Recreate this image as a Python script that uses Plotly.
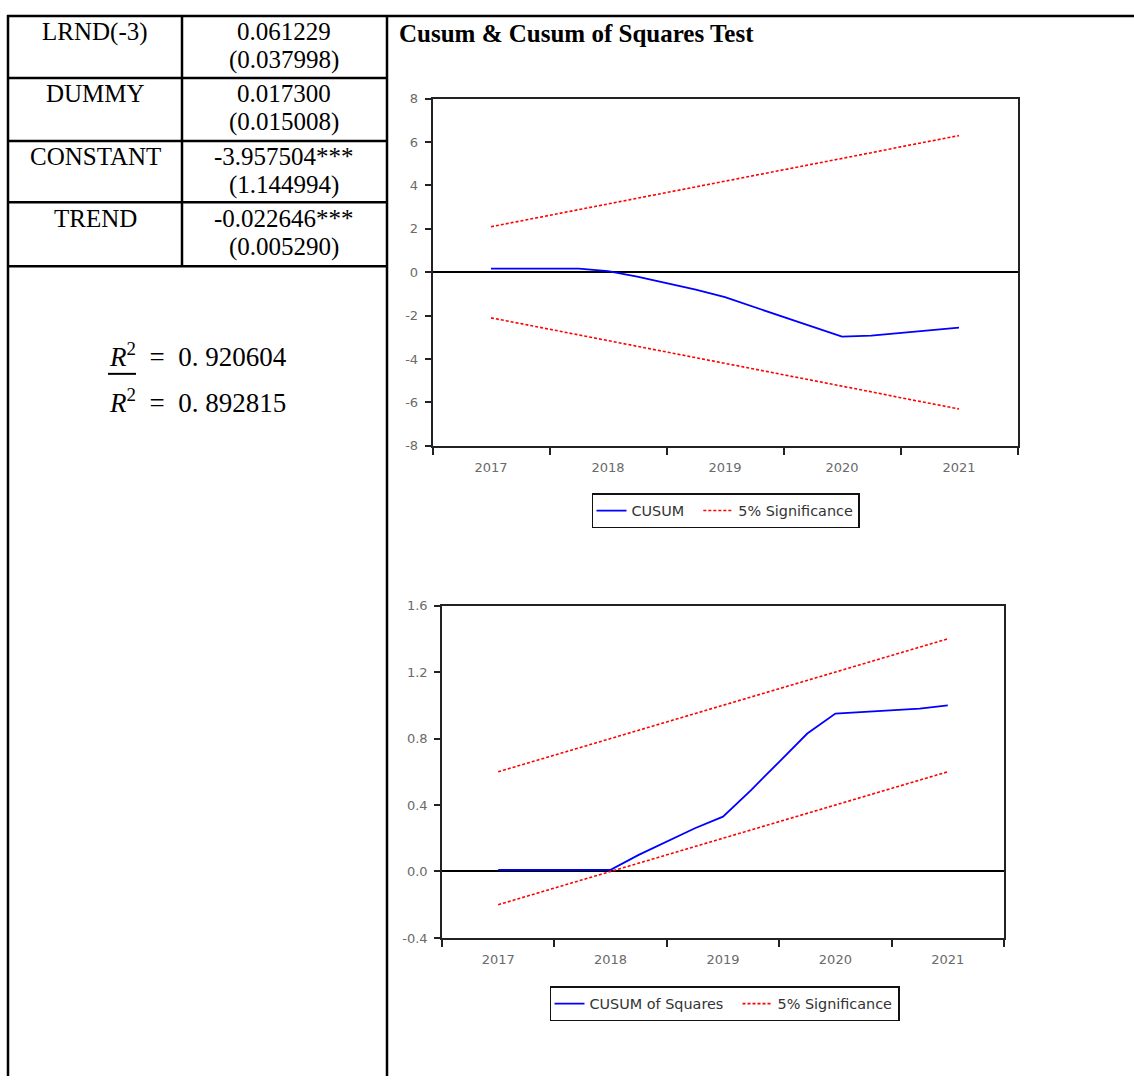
import plotly.graph_objects as go

W, H = 1134, 1084

# ---------------- data ----------------
variables = ["LRND(-3)", "DUMMY", "CONSTANT", "TREND"]
coefficients = ["0.061229", "0.017300", "-3.957504***", "-0.022646***"]
std_errors = ["(0.037998)", "(0.015008)", "(1.144994)", "(0.005290)"]
r2_value = "0. 920604"
adj_r2_value = "0. 892815"
title_text = "Cusum &amp; Cusum of Squares Test"

periods = [2017.0, 2017.25, 2017.5, 2017.75, 2018.0, 2018.25, 2018.5, 2018.75,
           2019.0, 2019.25, 2019.5, 2019.75, 2020.0, 2020.25, 2020.5, 2020.75, 2021.0]
year_ticks = [2017, 2018, 2019, 2020, 2021]
year_labels = ["2017", "2018", "2019", "2020", "2021"]

cusum_ticks = [-8, -6, -4, -2, 0, 2, 4, 6, 8]
cusum_tick_labels = ["-8", "-6", "-4", "-2", "0", "2", "4", "6", "8"]
sq_ticks = [-0.4, 0.0, 0.4, 0.8, 1.2, 1.6]
sq_tick_labels = ["-0.4", "0.0", "0.4", "0.8", "1.2", "1.6"]

cusum = [0.17, 0.17, 0.17, 0.17, 0.05, -0.2, -0.5, -0.8,
         -1.15, -1.6, -2.05, -2.5, -2.97, -2.92, -2.8, -2.68, -2.55]
cusum_upper = [2.10, 2.36, 2.63, 2.89, 3.15, 3.41, 3.68, 3.94,
               4.20, 4.46, 4.73, 4.99, 5.25, 5.51, 5.78, 6.04, 6.30]
cusum_lower = [-2.10, -2.36, -2.63, -2.89, -3.15, -3.41, -3.68, -3.94,
               -4.20, -4.46, -4.73, -4.99, -5.25, -5.51, -5.78, -6.04, -6.30]

cusumsq = [0.01, 0.01, 0.01, 0.01, 0.01, 0.10, 0.18, 0.26,
           0.33, 0.49, 0.66, 0.83, 0.95, 0.96, 0.97, 0.98, 1.00]
sq_upper = [0.60, 0.65, 0.70, 0.75, 0.80, 0.85, 0.90, 0.95,
            1.00, 1.05, 1.10, 1.15, 1.20, 1.25, 1.30, 1.35, 1.40]
sq_lower = [-0.20, -0.15, -0.10, -0.05, 0.00, 0.05, 0.10, 0.15,
            0.20, 0.25, 0.30, 0.35, 0.40, 0.45, 0.50, 0.55, 0.60]


def px(x):
    return x / W


def py(y):
    return 1 - y / H


BLUE = "#0000FF"
RED = "#FF0000"
DASH = "3px,2px"
AXC = "#222222"
TICKFONT = dict(family="DejaVu Sans", size=13, color="#6a6a6a")
LEGFONT = dict(family="DejaVu Sans", size=14.4, color="#333333")
SERIF = "Liberation Serif"
NB = "&nbsp;&nbsp;"

fig = go.Figure()

# chart 1
fig.add_trace(go.Scatter(x=periods, y=cusum, mode="lines", name="CUSUM" + NB,
                         line=dict(color=BLUE, width=1.8), xaxis="x", yaxis="y",
                         legend="legend"))
fig.add_trace(go.Scatter(x=periods, y=cusum_upper, mode="lines", name="5% Significance",
                         line=dict(color=RED, width=1.6, dash=DASH), xaxis="x", yaxis="y",
                         legend="legend", legendgroup="sig1"))
fig.add_trace(go.Scatter(x=periods, y=cusum_lower, mode="lines", name="5% Significance",
                         line=dict(color=RED, width=1.6, dash=DASH), xaxis="x", yaxis="y",
                         legend="legend", legendgroup="sig1", showlegend=False))
# chart 2
fig.add_trace(go.Scatter(x=periods, y=cusumsq, mode="lines", name="CUSUM of Squares" + NB,
                         line=dict(color=BLUE, width=1.8), xaxis="x2", yaxis="y2",
                         legend="legend2"))
fig.add_trace(go.Scatter(x=periods, y=sq_upper, mode="lines", name="5% Significance",
                         line=dict(color=RED, width=1.6, dash=DASH), xaxis="x2", yaxis="y2",
                         legend="legend2", legendgroup="sig2"))
fig.add_trace(go.Scatter(x=periods, y=sq_lower, mode="lines", name="5% Significance",
                         line=dict(color=RED, width=1.6, dash=DASH), xaxis="x2", yaxis="y2",
                         legend="legend2", legendgroup="sig2", showlegend=False))


def xaxis_cfg(domain, anchor):
    return dict(domain=domain, anchor=anchor, range=[2016.5, 2021.5],
                tickmode="array", tickvals=year_ticks, ticktext=year_labels,
                ticks="", showgrid=False, zeroline=False,
                showline=True, mirror=True, linecolor=AXC, linewidth=1.5,
                tickfont=TICKFONT, ticklabelstandoff=9,
                minor=dict(ticks="outside", tick0=2016.5, dtick=1, ticklen=7,
                           tickcolor=AXC, tickwidth=1.5, showgrid=False))


def yaxis_cfg(domain, anchor, rng, tv, tt):
    return dict(domain=domain, anchor=anchor, range=rng, tickmode="array",
                tickvals=tv, ticktext=tt,
                ticks="outside", ticklen=6, tickwidth=1.5, tickcolor=AXC,
                showgrid=False, zeroline=True, zerolinecolor="#000000", zerolinewidth=1.5,
                showline=True, mirror=True, linecolor=AXC, linewidth=1.5,
                tickfont=TICKFONT, ticklabelstandoff=4)


shapes = []


def hline(x0, x1, y, w=2.5):
    shapes.append(dict(type="line", xref="paper", yref="paper",
                       x0=px(x0), x1=px(x1), y0=py(y), y1=py(y),
                       line=dict(color="black", width=w)))


def vline(x, y0, y1, w=2.5):
    shapes.append(dict(type="line", xref="paper", yref="paper",
                       x0=px(x), x1=px(x), y0=py(y0), y1=py(y1),
                       line=dict(color="black", width=w)))


# table frame
hline(7, W, 9)
vline(8, 8, H)
vline(182, 9, 263)
vline(387, 8, H)
row_lines = [72, 136, 198, 263]
for yl in row_lines:
    hline(8, 387, yl)
# overline for adjusted R^2
hline(108, 136, 372, w=2)

annotations = []
row_tops = [9, 72, 136, 198]
for i, top in enumerate(row_tops):
    annotations.append(dict(x=px(95), y=py(top + 16), xref="paper", yref="paper",
                            text=variables[i], showarrow=False, xanchor="center", yanchor="middle",
                            font=dict(family=SERIF, size=25, color="black")))
    annotations.append(dict(x=px(284), y=py(top + 16), xref="paper", yref="paper",
                            text=coefficients[i], showarrow=False, xanchor="center", yanchor="middle",
                            font=dict(family=SERIF, size=25, color="black")))
    annotations.append(dict(x=px(284), y=py(top + 45), xref="paper", yref="paper",
                            text=std_errors[i], showarrow=False, xanchor="center", yanchor="middle",
                            font=dict(family=SERIF, size=25, color="black")))

annotations.append(dict(x=px(107), y=py(353), xref="paper", yref="paper",
                        text="<i>R</i><sup>2</sup>&nbsp; =&nbsp; " + r2_value, showarrow=False,
                        xanchor="left", yanchor="middle",
                        font=dict(family=SERIF, size=27, color="black")))
annotations.append(dict(x=px(107), y=py(400), xref="paper", yref="paper",
                        text="<i>R</i><sup>2</sup>&nbsp; =&nbsp; " + adj_r2_value, showarrow=False,
                        xanchor="left", yanchor="middle",
                        font=dict(family=SERIF, size=27, color="black")))
annotations.append(dict(x=px(397), y=py(27), xref="paper", yref="paper",
                        text="<b>" + title_text + "</b>", showarrow=False,
                        xanchor="left", yanchor="middle",
                        font=dict(family=SERIF, size=25, color="black")))

fig.update_layout(
    width=W, height=H, margin=dict(l=0, r=0, t=0, b=0),
    paper_bgcolor="white", plot_bgcolor="white",
    xaxis=xaxis_cfg([px(432.5), px(1017.5)], "y"),
    yaxis=yaxis_cfg([py(445), py(93)], "x", [-8, 8], cusum_ticks, cusum_tick_labels),
    xaxis2=xaxis_cfg([px(442), px(1004)], "y2"),
    yaxis2=yaxis_cfg([py(944), py(607)], "x2", [-0.4, 1.6], sq_ticks, sq_tick_labels),
    legend=dict(x=px(725.5), y=py(493), xanchor="center", yanchor="top",
                orientation="h", bgcolor="white", bordercolor="#111111", borderwidth=1.5,
                font=LEGFONT, xref="paper", yref="paper"),
    legend2=dict(x=px(724.5), y=py(993), xanchor="center", yanchor="top",
                 orientation="h", bgcolor="white", bordercolor="#111111", borderwidth=1.5,
                 font=LEGFONT, xref="paper", yref="paper"),
    shapes=shapes, annotations=annotations, showlegend=True,
)

fig.write_html("out.html", config={"displayModeBar": False},
               post_script="document.body.style.margin='0';document.body.style.padding='0';"
                           "document.body.style.overflow='hidden';")
